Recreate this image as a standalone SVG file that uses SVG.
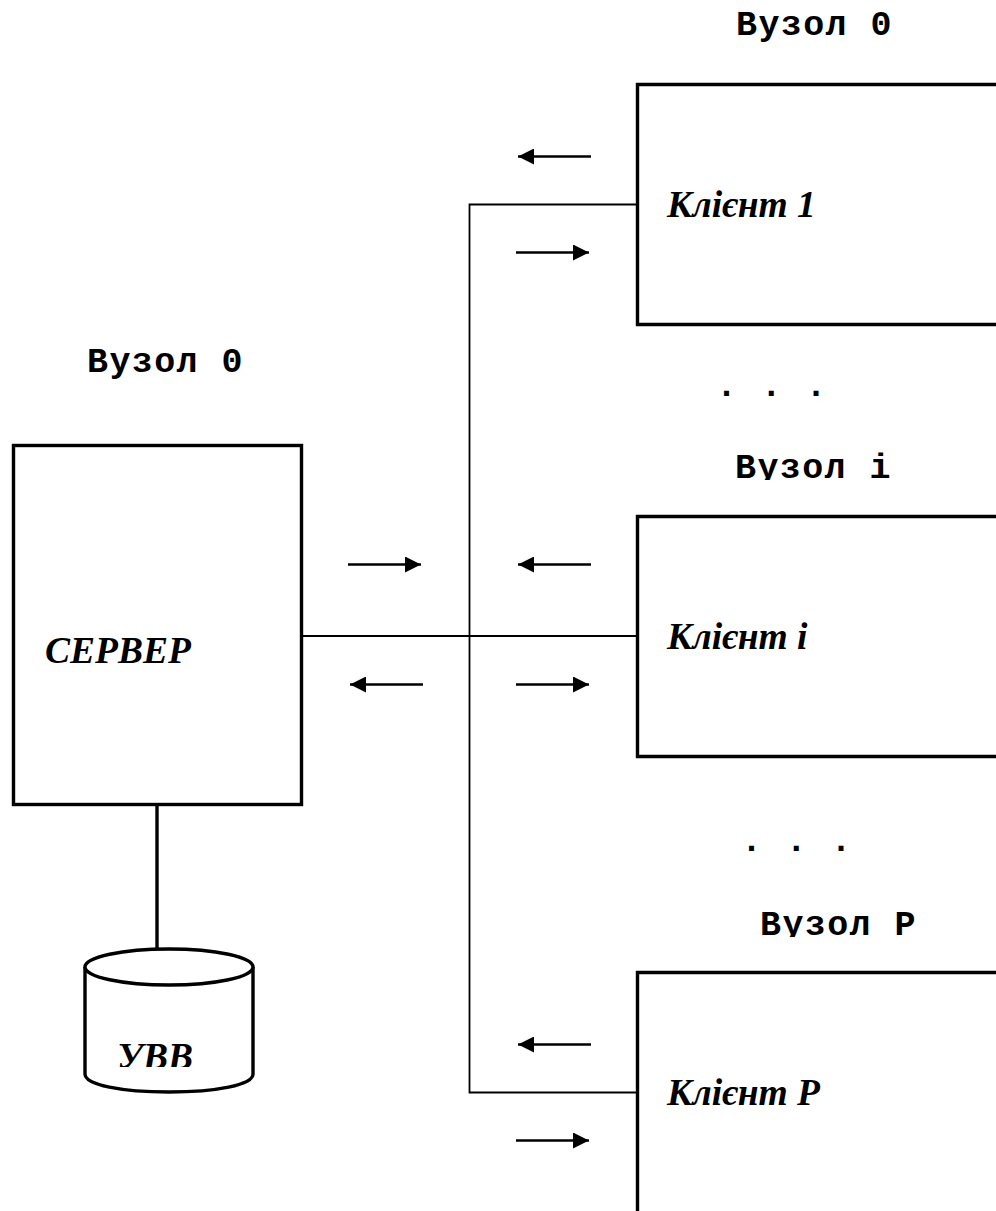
<svg xmlns="http://www.w3.org/2000/svg" width="996" height="1211" viewBox="0 0 996 1211">
<style>
.box{fill:#fff;stroke:#000;stroke-width:3.4}
.wire{fill:none;stroke:#000;stroke-width:1.8}
.arr{fill:none;stroke:#000;stroke-width:2.4;marker-end:url(#h)}
.mono{font-family:"Liberation Mono","Courier New",monospace;font-weight:bold;font-size:35px;letter-spacing:1.4px;fill:#000}
.ser{font-family:"Liberation Serif","Times New Roman",serif;font-weight:bold;font-style:italic;font-size:37.500px;fill:#000}
</style>
<defs>
<marker id="h" markerUnits="userSpaceOnUse" markerWidth="16" markerHeight="16" refX="16" refY="8" orient="auto"><path d="M0 0L16 8L0 16Z" fill="#000"/></marker>
<clipPath id="c1"><rect x="700" y="440" width="220" height="40"/></clipPath>
<clipPath id="c2"><rect x="730" y="900" width="220" height="37"/></clipPath>
<clipPath id="c3"><rect x="100" y="1020" width="120" height="47"/></clipPath>
</defs>
<g id="connectors">
<path class="wire" d="M302 636H637M637 204.500H469.500V1092.500H637"/>
<path class="box" style="fill:none" d="M157 805V950"/>
<path class="arr" d="M591 156.500H518"/>
<path class="arr" d="M516 252.500H589"/>
<path class="arr" d="M348 564.500H421"/>
<path class="arr" d="M591 564.500H518"/>
<path class="arr" d="M423 684.500H350"/>
<path class="arr" d="M516 684.500H589"/>
<path class="arr" d="M591 1044.500H518"/>
<path class="arr" d="M516 1140.500H589"/>
</g>
<g id="server">
<rect class="box" x="13.500" y="445.500" width="288" height="359"/>
<text class="ser" x="45" y="663">СЕРВЕР</text>
<text class="mono" x="87" y="372">Вузол 0</text>
</g>
<g id="storage">
<path class="box" d="M85 967V1074C85 1085 122 1092 169 1092C216 1092 253 1085 253 1074V967"/>
<ellipse class="box" cx="169" cy="967" rx="84" ry="18"/>
<text class="ser" x="117" y="1069" clip-path="url(#c3)">УВВ</text>
</g>
<g id="client-1">
<path class="box" d="M996 84.500H637.500V324.500H996"/>
<text class="ser" x="667" y="217">Клієнт 1</text>
<text class="mono" x="736" y="35">Вузол 0</text>
</g>
<g id="client-i">
<path class="box" d="M996 516.500H637.500V756.500H996"/>
<text class="ser" x="667" y="649">Клієнт і</text>
<text class="mono" x="735" y="478" clip-path="url(#c1)">Вузол і</text>
<text class="mono" x="716" y="396">. . .</text>
</g>
<g id="client-p">
<path class="box" d="M996 972.500H637.500V1211"/>
<text class="ser" x="667" y="1105">Клієнт Р</text>
<text class="mono" x="760" y="935" clip-path="url(#c2)">Вузол Р</text>
<text class="mono" x="741" y="851">. . .</text>
</g>
</svg>
